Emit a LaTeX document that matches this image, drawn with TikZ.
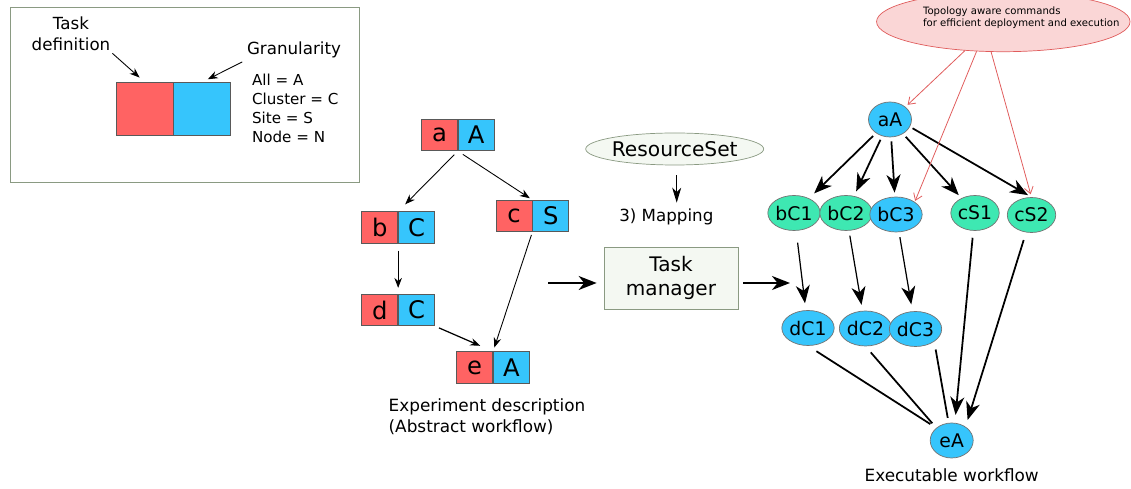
\documentclass[tikz,border=0pt]{standalone}
\usepackage{fontspec}
\setmainfont{DejaVu Sans}
\usetikzlibrary{positioning,shapes.geometric,arrows.meta}

\definecolor{tdred}{HTML}{FF6363}
\definecolor{granblue}{HTML}{36C5FC}
\definecolor{mint}{HTML}{3EE8B2}
\definecolor{legendline}{HTML}{8A9A82}
\definecolor{topofill}{HTML}{FAD6D6}
\definecolor{topoline}{HTML}{E05C5C}
\definecolor{boxfill}{HTML}{F4F8F2}

\tikzset{
  taskdef/.style={draw=black!65, fill=tdred, minimum width=7.2mm, minimum height=6.3mm, inner sep=0pt, font=\fontsize{13.8}{13.8}\selectfont},
  gran/.style={taskdef, fill=granblue},
  job/.style={ellipse, draw=black!55, fill=granblue, minimum width=8.6mm, minimum height=7mm, inner sep=0pt, font=\fontsize{10.7}{10.7}\selectfont},
  clusterjob/.style={job, fill=mint},
  dep/.style={-{Stealth[length=2mm,width=1.5mm]}, line width=0.5pt},
  bigdep/.style={-{Stealth[length=3.6mm,width=2.8mm,inset=1.1mm]}, line width=1pt},
  topo/.style={-{Straight Barb[length=1.3mm,width=1.8mm]}, draw=topoline, line width=0.45pt},
}

\begin{document}
\begin{tikzpicture}[x=0.2mm, y=-0.2mm]
  \useasboundingbox (0,0) rectangle (1131,489);
  % Legend box
  \draw[legendline] (10,7.5) rectangle (359,182.5);
  \node[taskdef, minimum width=11.3mm, minimum height=10.5mm] (lred) at (144.8,108.8) {};
  \node[gran, minimum width=11.3mm, minimum height=10.5mm, right=0pt of lred] (lblue) {};
  % multi-line texts sit on their last baseline
  \node[align=center, inner sep=1pt, font=\fontsize{9.5}{12.5}\selectfont, anchor=base] (tdlabel) at (71,51) {Task\\definition};
  \node[inner sep=1pt, font=\fontsize{9.5}{9.5}\selectfont, anchor=base] (granlabel) at (294,55) {Granularity};
  \node[align=left, inner sep=0pt, font=\fontsize{8.6}{10.7}\selectfont, anchor=base west] (codes) at (251.7,142.3) {All = A\\Cluster = C\\Site = S\\Node = N};
  \draw[dep, shorten >=1.4mm] (tdlabel.south east) -- (lred.north);
  \draw[dep, shorten <=0.6mm, shorten >=1.3mm] (granlabel.south west) -- (lblue.north);

  % Abstract workflow
  \node[taskdef] (a) at (439.5,135) {a};
  \node[gran, right=0pt of a] (a-g) {A};
  \node[taskdef] (b) at (379.8,227.5) {b};
  \node[gran, right=0pt of b] (b-g) {C};
  \node[taskdef] (c) at (514,216) {c};
  \node[gran, right=0pt of c] (c-g) {S};
  \node[taskdef] (d) at (379.8,310) {d};
  \node[gran, right=0pt of d] (d-g) {C};
  \node[taskdef] (e) at (474.7,367.5) {e};
  \node[gran, right=0pt of e] (e-g) {A};
  \draw[dep, shorten <=1mm, shorten >=2mm] (a.south east) -- (b.north east);
  \draw[dep, shorten <=1.2mm, shorten >=0.6mm] (a.south east) -- (c.north east);
  \draw[dep, shorten <=1.4mm, shorten >=1.2mm] (b.south east) -- (d.north east);
  \draw[dep, line width=0.7pt, shorten <=0.9mm, shorten >=2.8mm] (d-g.south east) -- (e.north east);
  \draw[dep, shorten <=0.6mm, shorten >=0.8mm] (c.south east) -- (e.north east);
  \node[align=left, inner sep=0pt, font=\fontsize{9.6}{12.1}\selectfont, anchor=base west] (absdesc) at (388.3,433) {Experiment description\\(Abstract workflow)};

  % Task manager with its mapping input
  \node[draw=legendline, fill=boxfill, minimum width=26.8mm, minimum height=12.4mm, align=center, inner sep=0pt, font=\fontsize{11.4}{14.2}\selectfont] (tm) at (671,278) {Task\\manager};
  \node[ellipse, draw=legendline, fill=boxfill, minimum width=35.2mm, minimum height=6.4mm, inner sep=0pt, font=\fontsize{11.5}{11.5}\selectfont] (rs) at (674.7,149) {ResourceSet};
  \node[inner sep=0pt, font=\fontsize{9.5}{9.5}\selectfont, anchor=base] (mapping) at (666.3,221.7) {3) Mapping};
  \draw[-{Stealth[length=3mm,width=1.8mm,inset=0.9mm]}, line width=0.6pt, shorten <=2mm, shorten >=1.2mm] ([xshift=0.4mm]rs.south) -- ([xshift=0.4mm]rs.south |- mapping.north);
  \coordinate (absout) at (548,283);
  \coordinate (execin) at (790,283);
  \draw[bigdep, shorten >=1.4mm] (absout) -- (absout -| tm.west);
  \draw[bigdep, shorten <=1mm] (tm.east |- execin) -- (execin);

  % Executable workflow
  \node[ellipse, draw=topoline, fill=topofill, minimum width=50.7mm, minimum height=12mm, inner sep=0pt] (topo) at (1003.3,21.7) {};
  \node[align=left, inner sep=0pt, font=\fontsize{5.75}{7.2}\selectfont, anchor=base west] (topotext) at (922.7,26.7) {Topology aware commands\\for efficient deployment and execution};
  \node[job] (aA) at (890,119.5) {aA};
  \node[clusterjob] (bC1) at (794,213) {bC1};
  \node[clusterjob] (bC2) at (846,213) {bC2};
  \node[job] (bC3) at (896,214.5) {bC3};
  \node[clusterjob] (cS1) at (975,213) {cS1};
  \node[clusterjob] (cS2) at (1031.5,215) {cS2};
  \node[job] (dC1) at (808,328) {dC1};
  \node[job] (dC2) at (865.5,328.5) {dC2};
  \node[job] (dC3) at (915.5,329) {dC3};
  \node[job] (eA) at (951.7,440.5) {eA};
  \node[inner sep=0pt, font=\fontsize{9.6}{9.6}\selectfont, anchor=base] (execdesc) at (951.7,481.7) {Executable workflow};
  \draw[bigdep, shorten <=0.8mm, shorten >=1.4mm] (aA) -- (bC1);
  \draw[bigdep, shorten <=0.8mm, shorten >=1mm] (aA) -- (bC2);
  \draw[bigdep, shorten <=0.8mm, shorten >=0.8mm] (aA) -- (bC3);
  \draw[bigdep, shorten <=0.8mm, shorten >=0.8mm] (aA) -- (cS1);
  \draw[bigdep, shorten <=0.6mm, shorten >=0.8mm] (aA.-20) -- (cS2.north);
  \draw[bigdep, line width=0.7pt, shorten <=2.4mm, shorten >=1.4mm] (bC1) -- (dC1);
  \draw[bigdep, line width=0.7pt, shorten <=1mm, shorten >=1.2mm] (bC2) -- (dC2);
  \draw[bigdep, line width=0.7pt, shorten <=1mm, shorten >=1.4mm] (bC3) -- (dC3);
  \draw[bigdep, shorten <=1.4mm, shorten >=1.6mm] (cS1) -- (eA.80);
  \draw[bigdep, shorten <=1.6mm, shorten >=1.4mm] (cS2) -- (eA.45);
  \draw[line width=1pt, shorten <=2mm, shorten >=1.4mm] (dC1.south) -- (eA.north west);
  \draw[line width=1pt, shorten <=1.6mm, shorten >=1.2mm] (dC2.south) -- (eA.north west);
  \draw[line width=1pt, shorten <=1.6mm, shorten >=1mm] (dC3.south east) -- (eA.100);
  \draw[topo, shorten >=0.6mm] (topo.217) -- (aA.north east);
  \draw[topo, shorten >=0.2mm] (topo.228) -- (bC3.north east);
  \draw[topo, shorten >=0.6mm] (topo.248) -- (cS2.north);
\end{tikzpicture}
\end{document}
